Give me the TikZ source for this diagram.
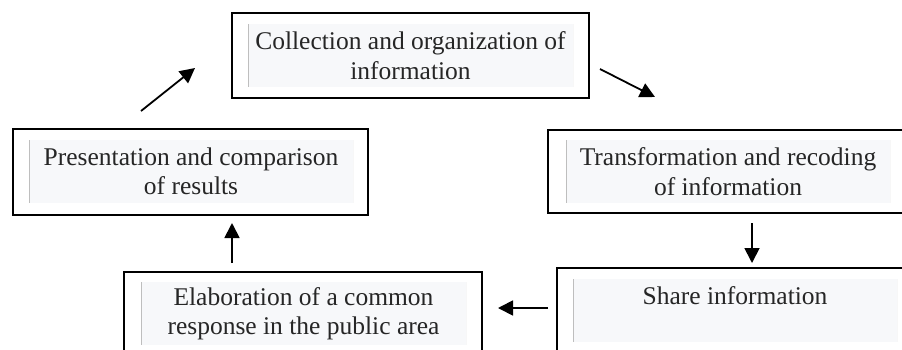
\documentclass[tikz,border=0pt]{standalone}
\usepackage{fontspec}
\setmainfont{Liberation Serif}
\usetikzlibrary{arrows.meta}
\definecolor{innerfill}{HTML}{F7F8FA}
\definecolor{innerline}{HTML}{BEBEBE}
\begin{document}
\begin{tikzpicture}[x=1pt,y=-1pt,
  obox/.style n args={2}{draw=black, line width=2.2pt, minimum width=#1, minimum height=#2, inner sep=0pt},
  ibox/.style n args={2}{fill=innerfill, inner sep=0pt, minimum width=#1, minimum height=#2, align=center,
    font=\fontsize{25.5}{29.5}\selectfont, text=black!85,
    path picture={\draw[innerline, line width=0.9pt]
      (path picture bounding box.north west) -- (path picture bounding box.south west)
      (path picture bounding box.north east) -- (path picture bounding box.south east);}},
  arr/.style={line width=1.8pt, -{Triangle[length=15pt,width=15pt]}}]
\useasboundingbox (0,0) rectangle (902,349);
\clip (0,0) rectangle (902,349);
% outer boxes
\node[obox={357}{85}] (top) at (410.5,55.5) {};
\node[obox={355}{86}] (pres) at (190.5,172) {};
\node[obox={364}{83}] (trans) at (730,171.5) {};
\node[obox={358}{90}] (elab) at (303,317) {};
\node[obox={355}{92}] (share) at (734.5,314) {};
% inner panels with text
\node[ibox={325}{63}] (topt) at (top.center) {Collection and organization of\\information};
\node[ibox={324}{63}] (prest) at (191,171.5) {Presentation and comparison\\of results};
\node[ibox={324}{63}] (transt) at (728,171.5) {Transformation and recoding\\of information};
\node[ibox={325}{63}] (elabt) at (303.5,313.5) {Elaboration of a common\\response in the public area};
\node[ibox={324}{63}] (sharet) at (735,310.5) {Share information\\\mbox{}};
% arrow end points
\coordinate (a1s) at (141,111); \coordinate (a1e) at (195,68);
\coordinate (a2s) at (600,69);  \coordinate (a2e) at (655,97);
\coordinate (a3s) at (752,223); \coordinate (a3e) at (752,263);
\coordinate (a4s) at (548,308); \coordinate (a4e) at (498,308);
\coordinate (a5s) at (232,263); \coordinate (a5e) at (232,223);
\draw[arr] (a1s) -- (a1e);
\draw[arr] (a2s) -- (a2e);
\draw[arr] (a3s) -- (a3e);
\draw[arr] (a4s) -- (a4e);
\draw[arr] (a5s) -- (a5e);
\end{tikzpicture}
\end{document}
